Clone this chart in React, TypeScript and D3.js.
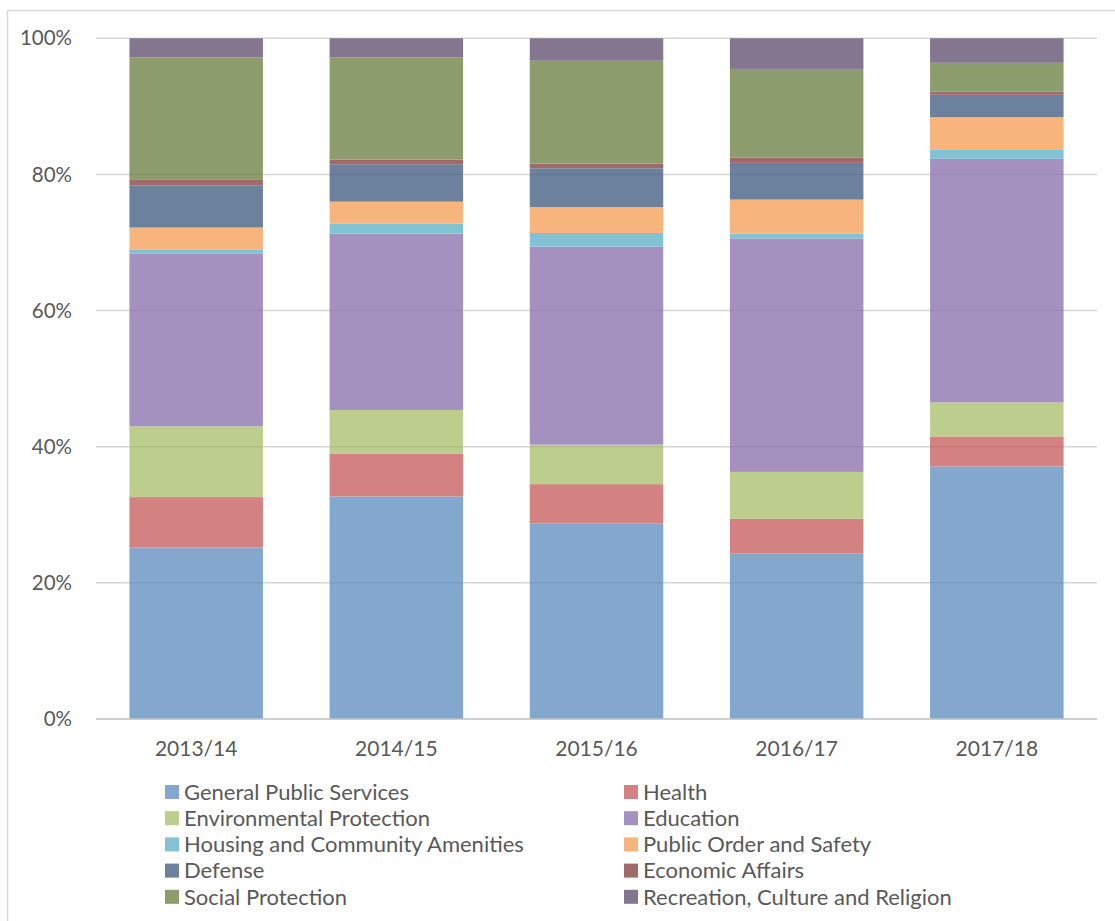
import React from "react";
import * as d3 from "d3";

const categories = ["2013/14", "2014/15", "2015/16", "2016/17", "2017/18"];

const seriesNames = [
  "General Public Services",
  "Health",
  "Environmental Protection",
  "Education",
  "Housing and Community Amenities",
  "Public Order and Safety",
  "Defense",
  "Economic Affairs",
  "Social Protection",
  "Recreation, Culture and Religion",
];

const seriesColors = [
  "#84a7ce",
  "#d48181",
  "#bccd8d",
  "#a591bf",
  "#81c3d5",
  "#f8b47d",
  "#6b819e",
  "#a06a6a",
  "#8d9c6c",
  "#84768f",
];

// values (%) per category, in series order
const generalPublicServices = [25.2, 32.7, 28.7, 24.3, 37.1];
const health = [7.4, 6.3, 5.8, 5.1, 4.4];
const environmentalProtection = [10.4, 6.4, 5.8, 6.9, 5.0];
const education = [25.4, 25.9, 29.1, 34.3, 35.8];
const housing = [0.6, 1.5, 2.0, 0.7, 1.4];
const publicOrder = [3.2, 3.2, 3.8, 5.0, 4.7];
const defense = [6.2, 5.5, 5.7, 5.4, 3.3];
const economicAffairs = [0.8, 0.7, 0.7, 0.8, 0.5];
const socialProtection = [18.0, 15.0, 15.1, 13.0, 4.2];
const recreation = [2.8, 2.8, 3.3, 4.5, 3.6];

const yTicks = [0, 0.2, 0.4, 0.6, 0.8, 1.0];

const seriesValues = [
  generalPublicServices,
  health,
  environmentalProtection,
  education,
  housing,
  publicOrder,
  defense,
  economicAffairs,
  socialProtection,
  recreation,
];

export default function App() {
  const W = 1115;
  const H = 921;
  const left = 96;
  const right = 1097;
  const top = 38.3;
  const bottom = 719;
  const font = "Lato, 'Open Sans', sans-serif";
  const textColor = "#595959";

  const rows = categories.map((c, i) => {
    const r: Record<string, any> = { category: c };
    seriesNames.forEach((s, j) => (r[s] = seriesValues[j][i]));
    return r;
  });

  const stacked = d3
    .stack<any>()
    .keys(seriesNames)
    .offset(d3.stackOffsetExpand)(rows);

  const x = d3
    .scaleBand<string>()
    .domain(categories)
    .range([left, right])
    .paddingInner(0.333)
    .paddingOuter(0.167);

  const y = d3.scaleLinear().domain([0, 1]).range([bottom, top]);
  const fmt = d3.format(".0%");

  const legendCols = [165, 624];
  const legendRow0 = 792;
  const legendStep = 26.2;

  return (
    <svg
      width={W}
      height={H}
      style={{ position: "absolute", left: 0, top: 0, background: "#fff" }}
    >
      <rect x={7.5} y={10.5} width={1130} height={940} fill="#fff" stroke="#d9d9d9" strokeWidth={1.5} />
      {yTicks.map((t) =>
        t > 0 ? (
          <line key={"g" + t} x1={left} x2={right} y1={y(t)} y2={y(t)} stroke="#e3e3e3" strokeWidth={1.5} />
        ) : null
      )}
      {stacked.map((layer, j) => (
        <g key={layer.key} fill={seriesColors[j]}>
          {layer.map((d, i) => (
            <rect
              key={i}
              x={x(categories[i])}
              width={x.bandwidth()}
              y={y(d[1])}
              height={y(d[0]) - y(d[1])}
            />
          ))}
        </g>
      ))}
      {yTicks.map((t) =>
        t > 0 ? (
          <line key={"go" + t} x1={left} x2={right} y1={y(t)} y2={y(t)} stroke="rgba(0,0,0,0.06)" strokeWidth={1.5} />
        ) : null
      )}
      <line x1={left} x2={right} y1={bottom} y2={bottom} stroke="#bfbfbf" strokeWidth={1.5} />
      {yTicks.map((t) => (
        <text
          key={"t" + t}
          x={72}
          y={y(t)}
          dy="0.35em"
          textAnchor="end"
          fontFamily={font}
          fontSize={20.5}
          fill={textColor}
        >
          {fmt(t)}
        </text>
      ))}
      {categories.map((c) => (
        <text
          key={c}
          x={(x(c) as number) + x.bandwidth() / 2}
          y={749}
          dy="0.35em"
          textAnchor="middle"
          fontFamily={font}
          fontSize={21}
          fill={textColor}
        >
          {c}
        </text>
      ))}
      {seriesNames.map((s, j) => {
        const col = j % 2;
        const row = Math.floor(j / 2);
        const cy = legendRow0 + row * legendStep;
        const sx = legendCols[col];
        return (
          <g key={s}>
            <rect x={sx} y={cy - 7} width={14} height={14} fill={seriesColors[j]} />
            <text
              x={sx + 19}
              y={cy}
              dy="0.35em"
              fontFamily={font}
              fontSize={22}
              fill={textColor}
            >
              {s}
            </text>
          </g>
        );
      })}
    </svg>
  );
}
